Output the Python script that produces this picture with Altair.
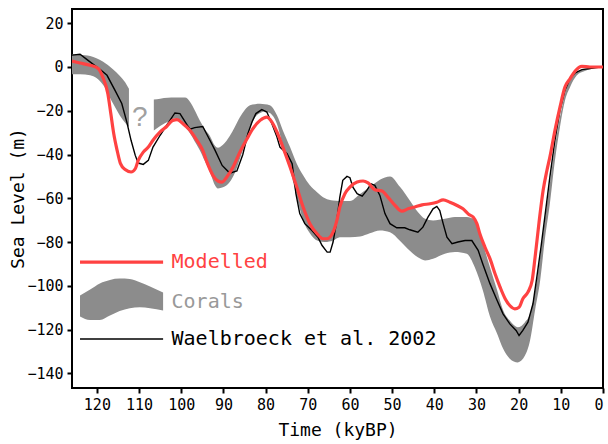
import altair as alt
import pandas as pd

# ---------------- data ----------------
wael_time = [125.9, 124.0, 122.1, 119.0, 117.6, 115.7, 114.1, 112.9, 111.9, 110.9, 110.2, 109.0, 107.8, 106.7, 105.0,
             103.2, 101.5, 100.3, 98.4, 97.9, 96.8, 94.9, 93.2, 92.0, 90.3, 88.5, 86.8, 85.4, 84.2, 83.2, 82.3, 80.9,
             79.7, 78.5, 77.3, 76.6, 74.9, 73.7, 72.8, 71.9, 70.7, 69.0, 67.6, 66.6, 65.4, 64.7, 64.0, 63.1, 62.4,
             61.7, 60.7, 60.0, 59.3, 58.3, 57.1, 56.0, 55.0, 54.1, 52.9, 51.7, 50.5, 48.9, 47.0, 45.8, 43.9, 42.7,
             41.5, 40.3, 39.4, 38.7, 37.9, 37.0, 35.8, 34.4, 32.7, 31.1, 29.6, 28.5, 26.8, 25.1, 23.7, 22.1, 20.6,
             19.9, 19.0, 17.8, 16.6, 15.7, 14.7, 13.8, 12.6, 11.4, 10.2, 9.0, 7.8, 6.6, 5.0, 3.1, 0.7, 0.0]
wael_level = [5.4, 5.8, 3.0, -1.5, -3.8, -10.7, -16.7, -25.2, -33.5, -40.4, -43.9, -44.5, -42.7, -36.6, -31.2,
              -25.9, -21.0, -21.3, -27.1, -28.4, -27.7, -27.2, -33.5, -38.0, -45.0, -48.5, -47.5, -40.0, -30.5, -25.0,
              -21.3, -19.5, -20.6, -25.9, -32.0, -36.6, -39.6, -44.2, -58.0, -67.0, -71.6, -74.7, -77.8, -81.6, -84.6,
              -84.6, -80.0, -70.0, -59.5, -51.8, -50.0, -50.6, -54.9, -57.9, -59.0, -56.4, -53.4, -54.1, -58.7, -67.0,
              -71.6, -73.5, -73.5, -74.4, -75.5, -73.2, -68.6, -64.8, -63.7, -65.6, -71.6, -77.8, -80.8, -80.0, -79.3,
              -79.3, -83.8, -90.0, -99.0, -106.7, -112.8, -117.4, -120.4, -122.7, -120.4, -116.6, -108.2, -96.1,
              -82.3, -68.6, -50.3, -33.5, -19.8, -10.7, -5.3, -2.7, -1.2, -0.7, 0.0, 0.0]

model_time = [125.9, 124.0, 121.6, 119.7, 118.6, 117.4, 116.7, 116.0, 115.2, 114.4, 113.3, 111.9, 110.9, 110.2,
              109.0, 107.8, 106.7, 105.0, 103.4, 102.0, 101.0, 99.6, 97.9, 96.3, 94.9, 93.9, 92.5, 91.3, 90.3, 89.2,
              87.7, 86.1, 84.4, 83.0, 81.3, 79.7, 78.5, 77.3, 75.9, 74.2, 72.6, 71.1, 69.5, 67.8, 66.4, 65.4, 64.0,
              63.1, 62.4, 61.2, 60.0, 58.3, 56.9, 55.7, 54.1, 52.4, 51.0, 49.3, 47.7, 46.2, 44.6, 42.9, 41.0, 39.4,
              37.9, 36.3, 34.6, 33.2, 31.8, 30.8, 29.9, 29.2, 28.0, 26.8, 25.6, 24.4, 23.2, 22.1, 20.9, 19.9, 19.0,
              17.8, 16.8, 16.1, 15.2, 14.2, 13.3, 12.6, 11.4, 10.2, 9.0, 7.8, 6.6, 5.0, 3.1, 0.0]
model_level = [2.7, 1.8, 0.8, -0.7, -4.6, -12.2, -21.3, -30.5, -38.1, -44.2, -46.9, -48.0, -46.5, -42.7, -38.9,
               -36.6, -33.5, -29.7, -27.1, -24.4, -24.1, -25.9, -29.0, -33.5, -38.1, -43.5, -49.5, -52.1, -52.6,
               -50.3, -45.7, -38.9, -32.8, -28.2, -24.4, -22.9, -25.2, -29.7, -36.6, -45.7, -54.9, -64.0, -71.6,
               -76.2, -78.5, -78.5, -75.5, -70.1, -64.0, -57.9, -54.9, -52.6, -52.1, -53.0, -56.1, -56.7, -59.5,
               -63.3, -65.9, -64.8, -64.0, -63.0, -62.5, -61.8, -60.7, -61.8, -63.3, -64.8, -67.4, -68.6, -71.6,
               -76.2, -82.3, -87.6, -94.5, -100.6, -105.9, -109.0, -110.5, -109.8, -105.9, -102.9, -97.6, -86.9,
               -71.6, -56.4, -47.3, -41.2, -29.0, -18.3, -9.1, -5.3, -1.8, 0.3, 0.0, 0.0]

coral1_time = [125.9, 124.0, 121.6, 118.6, 116.2, 114.6, 113.3, 112.4]
coral1_upper = [5.8, 5.6, 5.0, 2.5, -1.0, -4.0, -7.0, -10.0]
coral1_lower = [-3.3, -3.3, -3.8, -8.0, -16.6, -22.0, -25.5, -27.4]

coral2_time = [106.5, 105.0, 103.2, 101.5, 100.3, 99.1, 97.9, 96.8, 95.6, 94.4,
               93.2, 92.0, 91.3, 90.1, 88.5, 87.3, 86.1, 84.9, 83.7, 82.5,
               81.3, 80.2, 79.0, 77.3, 75.9, 74.2, 72.6, 71.1, 69.5, 67.8,
               65.9, 64.0, 62.4, 60.0, 57.6, 55.3, 52.9, 50.5, 48.1, 45.8,
               43.9, 42.2, 40.3, 37.5, 35.1, 32.3, 30.4, 28.5, 26.8, 25.1,
               23.7, 22.1, 20.2, 18.5, 17.3, 16.1, 14.9, 13.8, 12.6, 11.4,
               10.2, 9.0, 7.8, 6.2, 4.3, 1.9, 0.0]
coral2_upper = [-14.9, -14.5, -14.1, -14.0, -14.0, -14.0, -16.0, -19.8, -24.5, -28.5,
                -31.5, -36.0, -36.9, -35.5, -31.5, -27.4, -23.0, -19.5, -17.5, -17.0,
                -16.8, -17.0, -17.5, -22.1, -29.0, -36.6, -44.2, -49.5, -54.1, -57.2,
                -60.0, -61.0, -61.2, -61.2, -58.0, -55.0, -51.5, -50.0, -54.9, -61.0,
                -66.3, -69.4, -70.1, -69.4, -68.6, -68.6, -70.1, -80.8, -91.5, -102.0,
                -111.0, -115.9, -118.9, -116.6, -112.8, -102.0, -86.9, -70.0, -53.3, -36.6,
                -22.9, -12.2, -6.1, -2.3, -1.0, -0.3, 0.0]
coral2_lower = [-29.0, -27.0, -25.0, -23.5, -24.0, -27.0, -30.4, -34.0, -38.0, -43.0,
                -48.0, -54.0, -55.5, -55.0, -52.6, -48.5, -42.0, -35.0, -28.0, -23.0,
                -21.0, -20.3, -21.0, -26.0, -36.0, -47.0, -59.5, -70.0, -76.0, -79.3,
                -80.0, -79.3, -77.8, -77.8, -77.5, -76.0, -74.7, -75.5, -79.5, -84.0,
                -87.0, -88.4, -87.6, -85.4, -84.6, -85.4, -91.5, -102.0, -114.0, -121.9,
                -128.7, -133.3, -135.0, -131.9, -125.0, -111.0, -97.6, -79.0, -62.5, -42.7,
                -27.4, -15.2, -9.1, -3.8, -1.8, -0.5, 0.0]

x_ticks = [120, 110, 100, 90, 80, 70, 60, 50, 40, 30, 20, 10, 0]
y_ticks = [-140, -120, -100, -80, -60, -40, -20, 0, 20]

# legend (in data units, drawn inside the plot)
legend_labels = ["Modelled", "Corals", "Waelbroeck et al. 2002"]
legend_line_time = [124.0, 104.3]
legend_label_time = 102.3
legend_level = [-89.2, -107.2, -124.3]
legend_band_time = [124.0, 121.6, 119.3, 116.9, 114.6, 112.2, 109.8, 107.4, 104.3]
legend_band_upper = [-104.4, -101.7, -98.9, -97.3, -96.7, -96.9, -98.4, -100.3, -103.1]
legend_band_lower = [-114.0, -115.6, -115.6, -113.6, -111.5, -110.2, -109.8, -110.2, -111.3]
question_pos = (109.8, -23.5)

# ---------------- tables ----------------
wael_df = pd.DataFrame({"time": wael_time, "level": wael_level})
model_df = pd.DataFrame({"time": model_time, "level": model_level})
coral_df = pd.concat([
    pd.DataFrame({"time": coral1_time, "level": coral1_upper, "lower": coral1_lower, "seg": "a"}),
    pd.DataFrame({"time": coral2_time, "level": coral2_upper, "lower": coral2_lower, "seg": "b"}),
])
leg_band_df = pd.DataFrame({"time": legend_band_time, "level": legend_band_upper, "lower": legend_band_lower})
leg_model_df = pd.DataFrame({"time": legend_line_time, "level": [legend_level[0]] * 2})
leg_wael_df = pd.DataFrame({"time": legend_line_time, "level": [legend_level[2]] * 2})
leg_text_df = [pd.DataFrame({"time": [legend_label_time], "level": [legend_level[i]], "label": [legend_labels[i]]})
               for i in range(3)]
q_df = pd.DataFrame({"time": [question_pos[0]], "level": [question_pos[1]], "label": ["?"]})

RED = "#ff4242"
GREY = "#8c8c8c"
FONT = "DejaVu Sans Mono"

xscale = alt.Scale(domain=[125.9, 0], nice=False, zero=False)
yscale = alt.Scale(domain=[-146.7, 26.5], nice=False, zero=False)

xaxis = alt.Axis(values=x_ticks, title="Time (kyBP)", format="d", titleY=42, titleBaseline="middle")
yaxis = alt.Axis(values=y_ticks, title="Sea Level (m)", format="d", titleX=-54, titleY=189,
                 titleBaseline="middle", titleAngle=270)


def X():
    return alt.X("time:Q", scale=xscale, axis=xaxis)


def Y():
    return alt.Y("level:Q", scale=yscale, axis=yaxis)


band = alt.Chart(coral_df).mark_area(color=GREY, opacity=1, interpolate="monotone", clip=True).encode(
    x=X(), y=Y(), y2="lower:Q", detail="seg:N")
wael = alt.Chart(wael_df).mark_line(color="black", strokeWidth=1.4, clip=True).encode(x=X(), y=Y())
model = alt.Chart(model_df).mark_line(color=RED, strokeWidth=3.2, interpolate="monotone", clip=True).encode(
    x=X(), y=Y())
qmark = alt.Chart(q_df).mark_text(color="#a0a0a0", fontSize=28, font="Liberation Sans", baseline="middle",
                                  align="center").encode(x=X(), y=Y(), text="label:N")

leg_band = alt.Chart(leg_band_df).mark_area(color=GREY, opacity=1, interpolate="monotone").encode(
    x=X(), y=Y(), y2="lower:Q")
leg_model = alt.Chart(leg_model_df).mark_line(color=RED, strokeWidth=3.2).encode(x=X(), y=Y())
leg_wael = alt.Chart(leg_wael_df).mark_line(color="black", strokeWidth=1.4).encode(x=X(), y=Y())
text_colors = [RED, "#999999", "black"]
leg_texts = [alt.Chart(leg_text_df[i]).mark_text(color=text_colors[i], fontSize=20, font=FONT, align="left",
                                                  baseline="middle").encode(x=X(), y=Y(), text="label:N")
             for i in range(3)]

chart = alt.layer(band, wael, model, qmark, leg_band, leg_model, leg_wael, *leg_texts).properties(
    width=531, height=379,
    autosize=alt.AutoSizeParams(type="none"),
    padding={"left": 72, "top": 9, "right": 5, "bottom": 56},
).configure_view(stroke="black", strokeWidth=2).configure_axis(
    grid=False, domain=False, tickColor="black", tickWidth=2, tickSize=5, labelPadding=4,
    labelFont=FONT, labelFontSize=15, labelColor="black", titleFont=FONT, titleFontSize=18,
    titleFontWeight="normal", titleColor="black"
)

chart.save("out.html", embed_options={"renderer": "svg", "actions": False})
